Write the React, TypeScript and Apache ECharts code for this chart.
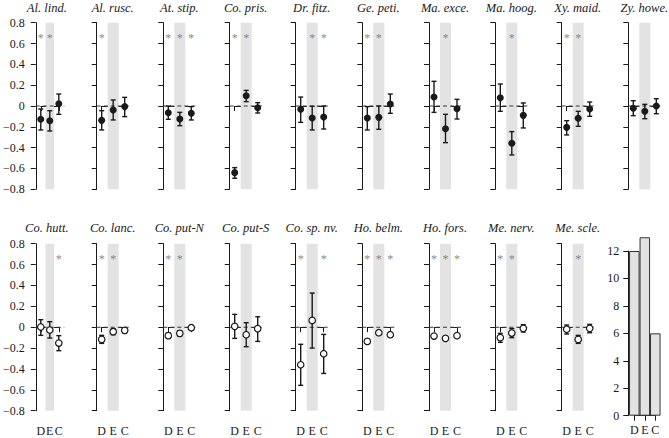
import React, { useEffect, useRef } from "react";
import * as echarts from "echarts";

// ---------- data ----------
const treatments = ["D", "E", "C"];

const topSpecies = ["Al. lind.", "Al. rusc.", "At. stip.", "Co. pris.", "Dr. fitz.", "Ge. peti.", "Ma. exce.", "Ma. hoog.", "Xy. maid.", "Zy. howe."];
const topMean = [
  [-0.128, -0.141, 0.022],
  [-0.138, -0.038, -0.006],
  [-0.064, -0.125, -0.07],
  [-0.64, 0.099, -0.016],
  [-0.032, -0.115, -0.106],
  [-0.115, -0.109, 0.019],
  [0.086, -0.218, -0.026],
  [0.08, -0.358, -0.09],
  [-0.205, -0.118, -0.029],
  [-0.022, -0.051, 0.0],
];
const topLow = [
  [-0.23, -0.24, -0.08],
  [-0.23, -0.134, -0.102],
  [-0.128, -0.189, -0.134],
  [-0.694, 0.042, -0.067],
  [-0.157, -0.23, -0.221],
  [-0.23, -0.224, -0.07],
  [-0.061, -0.352, -0.125],
  [-0.051, -0.47, -0.211],
  [-0.278, -0.195, -0.099],
  [-0.093, -0.122, -0.074],
];
const topHigh = [
  [-0.029, -0.045, 0.115],
  [-0.045, 0.058, 0.083],
  [0.0, -0.061, -0.006],
  [-0.592, 0.15, 0.032],
  [0.086, -0.003, 0.0],
  [-0.006, 0.0, 0.115],
  [0.237, -0.08, 0.064],
  [0.211, -0.246, 0.029],
  [-0.141, -0.051, 0.038],
  [0.051, 0.016, 0.07],
];
const topSig = [[1, 1, 0], [1, 0, 0], [1, 1, 1], [1, 1, 0], [0, 1, 1], [1, 1, 0], [0, 1, 0], [0, 1, 0], [1, 1, 0], [0, 0, 0]];

const bottomSpecies = ["Co. hutt.", "Co. lanc.", "Co. put-N", "Co. put-S", "Co. sp. nv.", "Ho. belm.", "Ho. fors.", "Me. nerv.", "Me. scle."];
const bottomMean = [
  [0.002, -0.027, -0.152],
  [-0.117, -0.043, -0.03],
  [-0.081, -0.059, -0.005],
  [0.008, -0.072, -0.014],
  [-0.36, 0.065, -0.254],
  [-0.136, -0.053, -0.072],
  [-0.085, -0.107, -0.081],
  [-0.1, -0.056, -0.011],
  [-0.02, -0.117, -0.011],
];
const bottomLow = [
  [-0.078, -0.104, -0.225],
  [-0.155, -0.072, -0.056],
  [-0.107, -0.085, -0.03],
  [-0.107, -0.187, -0.136],
  [-0.557, -0.2, -0.443],
  [-0.156, -0.073, -0.092],
  [-0.085, -0.107, -0.081],
  [-0.145, -0.1, -0.046],
  [-0.065, -0.155, -0.053],
];
const bottomHigh = [
  [0.072, 0.053, -0.081],
  [-0.078, -0.014, -0.005],
  [-0.056, -0.034, 0.018],
  [0.123, 0.043, 0.1],
  [-0.164, 0.327, -0.069],
  [-0.116, -0.033, -0.052],
  [-0.085, -0.107, -0.081],
  [-0.059, -0.014, 0.024],
  [0.021, -0.078, 0.027],
];
const bottomSig = [[0, 0, 1], [1, 1, 0], [1, 1, 0], [0, 0, 0], [1, 0, 1], [1, 1, 1], [1, 1, 1], [1, 1, 0], [0, 1, 0]];

const barCounts = [12, 13, 6];

// ---------- layout / style ----------
const AXIS_X = [30.8, 96.7, 163.3, 229.7, 295.7, 362.3, 429, 495.3, 561.7, 628.3];
const ROWS = [
  { top: 22.7, height: 166.6, titleTop: 1 },
  { top: 243.7, height: 167, titleTop: 221.5 },
];
const FONT = "Liberation Serif";
const INK = "#1a1a1a";
const STAR = "#8c8c8c";
const STAR_Y = 0.655;

export default function App() {
  const ref = useRef<HTMLDivElement>(null);

  useEffect(() => {
    if (!ref.current) return;
    const chart = echarts.init(ref.current, null, { renderer: "svg" });

    const grids: any[] = [];
    const xAxes: any[] = [];
    const yAxes: any[] = [];
    const series: any[] = [];
    const titles: any[] = [];

    const addPanel = (
      row: number,
      col: number,
      name: string,
      mean: number[],
      low: number[],
      high: number[],
      sig: number[],
      filled: boolean
    ) => {
      const k = grids.length;
      const ax = AXIS_X[col];
      const r = ROWS[row];
      grids.push({ left: ax + 5, top: r.top, width: 23, height: r.height });
      titles.push({
        text: name,
        left: ax + 16,
        top: r.titleTop,
        padding: 0,
        textAlign: "center",
        textStyle: { fontFamily: FONT, fontStyle: "italic", fontWeight: "normal", fontSize: 12.5, color: INK },
      });
      xAxes.push({
        gridIndex: k,
        type: "value",
        min: 1,
        max: 3,
        interval: 1,
        offset: 8,
        axisLine: { show: true, lineStyle: { color: INK, width: 1 } },
        axisTick: { show: true, length: 5, lineStyle: { color: INK } },
        axisLabel: {
          show: row === 1,
          margin: 6,
          fontFamily: FONT,
          fontSize: 12,
          color: INK,
          formatter: (v: number) => treatments[Math.round(v) - 1] ?? "",
        },
        splitLine: { show: false },
      });
      yAxes.push({
        gridIndex: k,
        type: "value",
        min: -0.8,
        max: 0.8,
        interval: 0.2,
        offset: 5,
        axisLine: { show: true, lineStyle: { color: INK, width: 1 } },
        axisTick: { show: true, length: 5, lineStyle: { color: INK } },
        axisLabel: {
          show: col === 0,
          margin: 11,
          fontFamily: FONT,
          fontSize: 12,
          color: INK,
          formatter: (v: number) => (Math.abs(v) < 1e-9 ? "0" : (v < 0 ? "\u2212" : "") + Math.abs(v).toFixed(1)),
        },
        splitLine: { show: false },
      });
      // dashed zero line
      series.push({
        type: "custom",
        xAxisIndex: k,
        yAxisIndex: k,
        z: 3,
        silent: true,
        itemStyle: { color: "#444" },
        data: [[1, 0]],
        renderItem: (params: any, api: any) => {
          const p1 = api.coord([1, 0]);
          const p3 = api.coord([3, 0]);
          return {
            type: "line",
            shape: { x1: p1[0] - 5, y1: p1[1], x2: p3[0] + 5.5, y2: p1[1] },
            style: { stroke: "#3a3a3a", lineWidth: 1.1, lineDash: [4, 3] },
          };
        },
      });
      // error bars
      series.push({
        type: "custom",
        xAxisIndex: k,
        yAxisIndex: k,
        z: 4,
        silent: true,
        itemStyle: { color: INK },
        data: mean.map((_, i) => [i + 1, low[i], high[i]]),
        renderItem: (params: any, api: any) => {
          const x = api.value(0);
          const lo = api.value(1);
          const hi = api.value(2);
          if (Math.abs(hi - lo) < 1e-9) return { type: "group", children: [] };
          const a = api.coord([x, lo]);
          const b = api.coord([x, hi]);
          const st = { stroke: INK, lineWidth: 1.4 };
          const cw = 2.5;
          return {
            type: "group",
            children: [
              { type: "line", shape: { x1: a[0], y1: a[1], x2: b[0], y2: b[1] }, style: st },
              { type: "line", shape: { x1: a[0] - cw, y1: a[1], x2: a[0] + cw, y2: a[1] }, style: st },
              { type: "line", shape: { x1: b[0] - cw, y1: b[1], x2: b[0] + cw, y2: b[1] }, style: st },
            ],
          };
        },
      });
      // points + grey band
      series.push({
        type: "scatter",
        xAxisIndex: k,
        yAxisIndex: k,
        z: 5,
        symbol: "circle",
        symbolSize: filled ? 7 : 6.5,
        itemStyle: filled
          ? { color: INK, opacity: 1 }
          : { color: "#ffffff", borderColor: INK, borderWidth: 1.2, opacity: 1 },
        data: mean.map((m, i) => [i + 1, m]),
        markArea: {
          silent: true,
          itemStyle: { color: "#e3e3e3", opacity: 1 },
          data: [[{ xAxis: 1.52 }, { xAxis: 2.48 }]],
        },
      });
      // significance stars
      series.push({
        type: "custom",
        xAxisIndex: k,
        yAxisIndex: k,
        z: 6,
        silent: true,
        itemStyle: { color: STAR },
        data: sig.map((s, i) => [i + 1, STAR_Y, s]),
        renderItem: (params: any, api: any) => {
          if (!api.value(2)) return { type: "group", children: [] };
          const p = api.coord([api.value(0), api.value(1)]);
          return {
            type: "text",
            x: p[0],
            y: p[1],
            style: {
              text: "*",
              fill: "rgba(110,110,110,0.85)",
              opacity: 0.98,
              fontFamily: FONT,
              fontSize: 12,
              align: "center",
              verticalAlign: "middle",
            },
          };
        },
      });
    };

    topSpecies.forEach((n, i) => addPanel(0, i, n, topMean[i], topLow[i], topHigh[i], topSig[i], true));
    bottomSpecies.forEach((n, i) => addPanel(1, i, n, bottomMean[i], bottomLow[i], bottomHigh[i], bottomSig[i], false));

    // bar panel
    const kb = grids.length;
    grids.push({ left: 634.3, top: 251, width: 21, height: 164.7 });
    xAxes.push({
      gridIndex: kb,
      type: "value",
      min: 1,
      max: 3,
      interval: 1,
      offset: 2,
      axisLine: { show: true, lineStyle: { color: INK, width: 1 } },
      axisTick: { show: true, length: 5, lineStyle: { color: INK } },
      axisLabel: {
        show: true,
        margin: 6,
        fontFamily: FONT,
        fontSize: 12,
        color: INK,
        formatter: (v: number) => treatments[Math.round(v) - 1] ?? "",
      },
      splitLine: { show: false },
    });
    yAxes.push({
      gridIndex: kb,
      type: "value",
      min: 0,
      max: 12,
      interval: 2,
      offset: 6,
      axisLine: { show: true, lineStyle: { color: INK, width: 1 } },
      axisTick: { show: true, length: 5, lineStyle: { color: INK } },
      axisLabel: { show: true, margin: 9, fontFamily: FONT, fontSize: 12, color: INK },
      splitLine: { show: false },
    });
    series.push({
      type: "bar",
      xAxisIndex: kb,
      yAxisIndex: kb,
      clip: false,
      barWidth: 10.5,
      itemStyle: { color: "#e3e3e3", borderColor: "#333", borderWidth: 1 },
      data: barCounts.map((c, i) => [i + 1, c]),
    });

    chart.setOption({
      animation: false,
      backgroundColor: "#ffffff",
      textStyle: { fontFamily: FONT },
      title: titles,
      grid: grids,
      xAxis: xAxes,
      yAxis: yAxes,
      series,
    });
    return () => chart.dispose();
  }, []);

  return <div ref={ref} style={{ position: "fixed", left: 0, top: 0, width: 669, height: 438 }} />;
}
